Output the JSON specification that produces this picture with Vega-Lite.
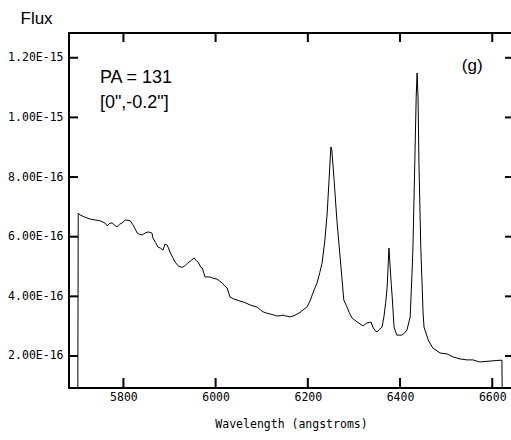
{
  "$schema": "https://vega.github.io/schema/vega-lite/v6.json",
  "autosize": {"type": "none"},
  "width": 444,
  "height": 355,
  "padding": {"left": 69, "top": 33, "right": 0, "bottom": 52},
  "background": "white",
  "config": {
    "view": {"stroke": "black", "strokeWidth": 2},
    "axis": {"grid": false, "domain": false, "ticks": false, "labelColor": "black", "titleColor": "black"}
  },
  "datasets": {
    "spec": [
      {"w": 5701, "f": 0},
      {"w": 5702, "f": 6.79e-16},
      {"w": 5706, "f": 6.73e-16},
      {"w": 5717, "f": 6.65e-16},
      {"w": 5728, "f": 6.59e-16},
      {"w": 5739, "f": 6.56e-16},
      {"w": 5750, "f": 6.53e-16},
      {"w": 5760, "f": 6.46e-16},
      {"w": 5765, "f": 6.36e-16},
      {"w": 5770, "f": 6.45e-16},
      {"w": 5776, "f": 6.46e-16},
      {"w": 5781, "f": 6.38e-16},
      {"w": 5786, "f": 6.33e-16},
      {"w": 5792, "f": 6.42e-16},
      {"w": 5797, "f": 6.46e-16},
      {"w": 5804, "f": 6.56e-16},
      {"w": 5810, "f": 6.55e-16},
      {"w": 5815, "f": 6.53e-16},
      {"w": 5821, "f": 6.39e-16},
      {"w": 5830, "f": 6.12e-16},
      {"w": 5835, "f": 6.08e-16},
      {"w": 5841, "f": 6.06e-16},
      {"w": 5848, "f": 6.13e-16},
      {"w": 5854, "f": 6.16e-16},
      {"w": 5862, "f": 6.12e-16},
      {"w": 5864, "f": 5.96e-16},
      {"w": 5870, "f": 5.80e-16},
      {"w": 5875, "f": 5.65e-16},
      {"w": 5880, "f": 5.62e-16},
      {"w": 5886, "f": 5.55e-16},
      {"w": 5890, "f": 5.75e-16},
      {"w": 5895, "f": 5.72e-16},
      {"w": 5901, "f": 5.49e-16},
      {"w": 5907, "f": 5.30e-16},
      {"w": 5912, "f": 5.15e-16},
      {"w": 5919, "f": 5.02e-16},
      {"w": 5925, "f": 4.98e-16},
      {"w": 5929, "f": 4.98e-16},
      {"w": 5935, "f": 5.05e-16},
      {"w": 5940, "f": 5.12e-16},
      {"w": 5947, "f": 5.20e-16},
      {"w": 5953, "f": 5.29e-16},
      {"w": 5958, "f": 5.20e-16},
      {"w": 5962, "f": 5.15e-16},
      {"w": 5968, "f": 4.97e-16},
      {"w": 5971, "f": 4.95e-16},
      {"w": 5977, "f": 4.65e-16},
      {"w": 5988, "f": 4.65e-16},
      {"w": 5995, "f": 4.60e-16},
      {"w": 6003, "f": 4.58e-16},
      {"w": 6008, "f": 4.52e-16},
      {"w": 6014, "f": 4.45e-16},
      {"w": 6020, "f": 4.35e-16},
      {"w": 6025, "f": 4.28e-16},
      {"w": 6031, "f": 3.98e-16},
      {"w": 6038, "f": 3.92e-16},
      {"w": 6046, "f": 3.88e-16},
      {"w": 6053, "f": 3.84e-16},
      {"w": 6060, "f": 3.81e-16},
      {"w": 6068, "f": 3.76e-16},
      {"w": 6075, "f": 3.71e-16},
      {"w": 6083, "f": 3.67e-16},
      {"w": 6090, "f": 3.64e-16},
      {"w": 6097, "f": 3.55e-16},
      {"w": 6103, "f": 3.48e-16},
      {"w": 6110, "f": 3.44e-16},
      {"w": 6118, "f": 3.41e-16},
      {"w": 6125, "f": 3.38e-16},
      {"w": 6133, "f": 3.34e-16},
      {"w": 6140, "f": 3.35e-16},
      {"w": 6146, "f": 3.37e-16},
      {"w": 6152, "f": 3.34e-16},
      {"w": 6157, "f": 3.33e-16},
      {"w": 6161, "f": 3.31e-16},
      {"w": 6170, "f": 3.35e-16},
      {"w": 6183, "f": 3.46e-16},
      {"w": 6190, "f": 3.55e-16},
      {"w": 6198, "f": 3.64e-16},
      {"w": 6205, "f": 3.85e-16},
      {"w": 6211, "f": 4.11e-16},
      {"w": 6216, "f": 4.30e-16},
      {"w": 6220, "f": 4.45e-16},
      {"w": 6226, "f": 4.80e-16},
      {"w": 6231, "f": 5.12e-16},
      {"w": 6237, "f": 5.89e-16},
      {"w": 6242, "f": 6.79e-16},
      {"w": 6246, "f": 7.90e-16},
      {"w": 6250, "f": 9.01e-16},
      {"w": 6252, "f": 8.91e-16},
      {"w": 6257, "f": 7.90e-16},
      {"w": 6263, "f": 6.56e-16},
      {"w": 6270, "f": 5.32e-16},
      {"w": 6274, "f": 4.60e-16},
      {"w": 6278, "f": 3.88e-16},
      {"w": 6285, "f": 3.64e-16},
      {"w": 6290, "f": 3.45e-16},
      {"w": 6296, "f": 3.27e-16},
      {"w": 6302, "f": 3.20e-16},
      {"w": 6307, "f": 3.14e-16},
      {"w": 6313, "f": 3.08e-16},
      {"w": 6320, "f": 3.01e-16},
      {"w": 6328, "f": 3.11e-16},
      {"w": 6333, "f": 3.12e-16},
      {"w": 6337, "f": 3.14e-16},
      {"w": 6341, "f": 2.97e-16},
      {"w": 6346, "f": 2.85e-16},
      {"w": 6350, "f": 2.81e-16},
      {"w": 6356, "f": 2.90e-16},
      {"w": 6361, "f": 2.97e-16},
      {"w": 6365, "f": 3.31e-16},
      {"w": 6369, "f": 3.80e-16},
      {"w": 6372, "f": 4.31e-16},
      {"w": 6376, "f": 5.62e-16},
      {"w": 6378, "f": 5.12e-16},
      {"w": 6381, "f": 4.40e-16},
      {"w": 6383, "f": 3.98e-16},
      {"w": 6387, "f": 2.97e-16},
      {"w": 6393, "f": 2.70e-16},
      {"w": 6398, "f": 2.70e-16},
      {"w": 6404, "f": 2.70e-16},
      {"w": 6410, "f": 2.78e-16},
      {"w": 6415, "f": 2.87e-16},
      {"w": 6422, "f": 3.31e-16},
      {"w": 6426, "f": 4.78e-16},
      {"w": 6428, "f": 5.65e-16},
      {"w": 6432, "f": 8.47e-16},
      {"w": 6435, "f": 10.68e-16},
      {"w": 6437, "f": 11.49e-16},
      {"w": 6439, "f": 10.68e-16},
      {"w": 6441, "f": 8.47e-16},
      {"w": 6445, "f": 5.65e-16},
      {"w": 6450, "f": 3.44e-16},
      {"w": 6452, "f": 2.97e-16},
      {"w": 6461, "f": 2.54e-16},
      {"w": 6471, "f": 2.27e-16},
      {"w": 6487, "f": 2.10e-16},
      {"w": 6502, "f": 2.07e-16},
      {"w": 6515, "f": 1.97e-16},
      {"w": 6530, "f": 1.90e-16},
      {"w": 6545, "f": 1.87e-16},
      {"w": 6558, "f": 1.87e-16},
      {"w": 6573, "f": 1.80e-16},
      {"w": 6595, "f": 1.83e-16},
      {"w": 6610, "f": 1.85e-16},
      {"w": 6621, "f": 1.86e-16},
      {"w": 6622, "f": 0}
    ],
    "notes": [
      {"w": 5749, "f": 11.15e-16, "t": "PA = 131", "k": "a"},
      {"w": 5749, "f": 10.30e-16, "t": "[0\",-0.2\"]", "k": "a"},
      {"w": 6534, "f": 11.54e-16, "t": "(g)", "k": "b"}
    ],
    "xticks": [{"w": 5800}, {"w": 6000}, {"w": 6200}, {"w": 6400}, {"w": 6600}],
    "yticks": [{"f": 2e-16}, {"f": 4e-16}, {"f": 6e-16}, {"f": 8e-16}, {"f": 1e-15}, {"f": 1.2e-15}]
  },
  "layer": [
    {
      "data": {"name": "spec"},
      "mark": {"type": "line", "color": "black", "strokeWidth": 1, "clip": true, "interpolate": "linear"},
      "encoding": {
        "x": {
          "field": "w", "type": "quantitative",
          "scale": {"domain": [5682, 6645], "nice": false, "zero": false},
          "axis": {
            "orient": "bottom",
            "values": [5800, 6000, 6200, 6400, 6600],
            "format": "d",
            "labelPadding": 3,
            "labelFont": "DejaVu Sans Mono",
            "labelFontSize": 11.5,
            "title": "Wavelength (angstroms)",
            "titleFont": "DejaVu Sans Mono",
            "titleFontSize": 11.5,
            "titleFontWeight": "normal",
            "titleBaseline": "middle",
            "titleY": 36
          }
        },
        "y": {
          "field": "f", "type": "quantitative",
          "scale": {"domain": [0.927e-16, 1.283e-15], "nice": false, "zero": false},
          "axis": {
            "orient": "left",
            "values": [2e-16, 4e-16, 6e-16, 8e-16, 1e-15, 1.2e-15],
            "labelExpr": "replace(format(datum.value, '.2e'), 'e', 'E')",
            "labelPadding": 6,
            "labelFont": "DejaVu Sans Mono",
            "labelFontSize": 11.5,
            "title": "Flux",
            "titleFont": "Liberation Sans",
            "titleFontSize": 17,
            "titleFontWeight": "normal",
            "titleAngle": 0,
            "titleAlign": "left",
            "titleBaseline": "alphabetic",
            "titleX": -49,
            "titleY": -10
          }
        }
      }
    },
    {
      "data": {"name": "yticks"},
      "mark": {"type": "rule", "color": "black", "strokeWidth": 2},
      "encoding": {
        "x": {"datum": 5682, "type": "quantitative"},
        "x2": {"datum": 5701.5},
        "y": {"field": "f", "type": "quantitative"}
      }
    },
    {
      "data": {"name": "yticks"},
      "mark": {"type": "rule", "color": "black", "strokeWidth": 2},
      "encoding": {
        "x": {"datum": 6645, "type": "quantitative"},
        "x2": {"datum": 6627.6},
        "y": {"field": "f", "type": "quantitative"}
      }
    },
    {
      "data": {"name": "xticks"},
      "mark": {"type": "rule", "color": "black", "strokeWidth": 2},
      "encoding": {
        "x": {"field": "w", "type": "quantitative"},
        "y": {"datum": 0.927e-16, "type": "quantitative"},
        "y2": {"datum": 1.262e-16}
      }
    },
    {
      "data": {"name": "xticks"},
      "mark": {"type": "rule", "color": "black", "strokeWidth": 2},
      "encoding": {
        "x": {"field": "w", "type": "quantitative"},
        "y": {"datum": 1.283e-15, "type": "quantitative"},
        "y2": {"datum": 1.2528e-15}
      }
    },
    {
      "data": {"name": "notes"},
      "mark": {"type": "text", "align": "left", "baseline": "alphabetic", "font": "Liberation Sans", "color": "black"},
      "encoding": {
        "x": {"field": "w", "type": "quantitative"},
        "y": {"field": "f", "type": "quantitative"},
        "text": {"field": "t"},
        "size": {"field": "k", "type": "nominal", "scale": {"domain": ["a", "b"], "range": [18, 17]}, "legend": null}
      }
    }
  ]
}
